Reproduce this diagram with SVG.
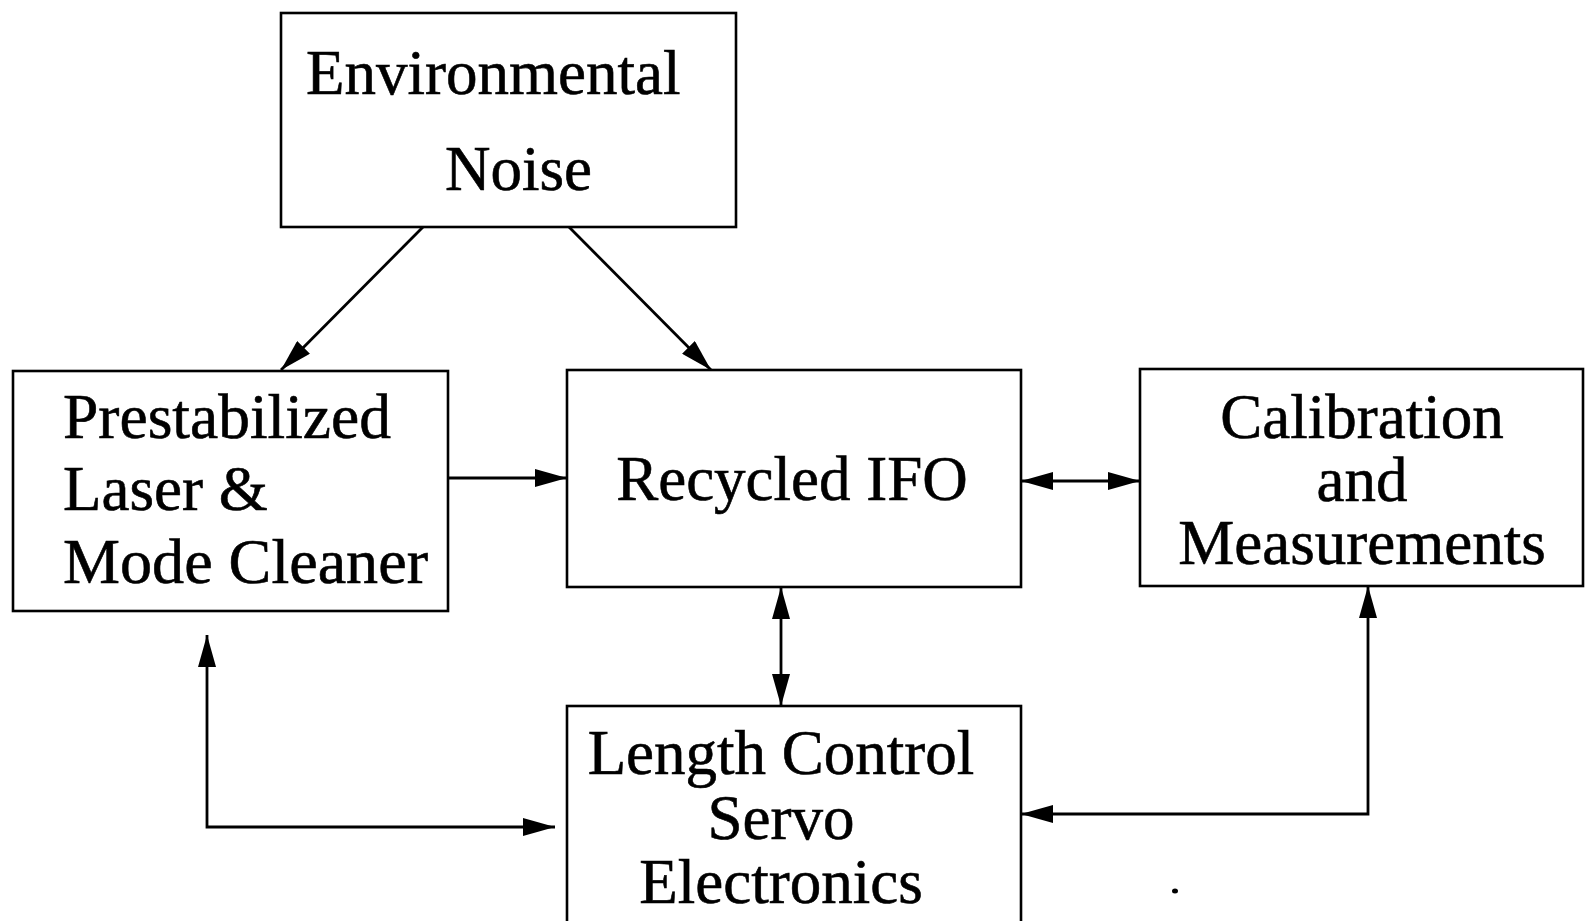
<svg xmlns="http://www.w3.org/2000/svg" width="1585" height="921" viewBox="0 0 1585 921">
<defs>
<style>
.box{fill:#fff;stroke:#000;stroke-width:2.6}
.t{font-family:"Liberation Serif","Times New Roman",serif;font-size:63px;fill:#000;stroke:#000;stroke-width:0.6}
.c{fill:none;stroke:#000;stroke-width:2.8}
</style>
<marker id="ah" markerUnits="userSpaceOnUse" markerWidth="32" markerHeight="18" refX="32" refY="9" orient="auto-start-reverse" viewBox="0 0 32 18">
<path d="M0,0 L32,9 L0,18 z" fill="#000"/>
</marker>
</defs>
<rect width="1585" height="921" fill="#fff"/>
<g id="env">
<rect class="box" x="281" y="13" width="455" height="214"/>
<text class="t" x="306" y="94">Environmental</text>
<text class="t" x="445" y="190">Noise</text>
</g>
<g id="laser">
<rect class="box" x="13" y="371" width="435" height="240"/>
<text class="t" x="63" y="438" textLength="328" lengthAdjust="spacingAndGlyphs">Prestabilized</text>
<text class="t" x="63" y="510">Laser &amp;</text>
<text class="t" x="63" y="583" textLength="365" lengthAdjust="spacingAndGlyphs">Mode Cleaner</text>
</g>
<g id="ifo">
<rect class="box" x="567" y="370" width="454" height="217"/>
<text class="t" x="792" y="500" text-anchor="middle">Recycled IFO</text>
</g>
<g id="cal">
<rect class="box" x="1140" y="369" width="443" height="217"/>
<text class="t" x="1362" y="438" text-anchor="middle">Calibration</text>
<text class="t" x="1362" y="501" text-anchor="middle">and</text>
<text class="t" x="1362" y="564" text-anchor="middle">Measurements</text>
</g>
<g id="lcs">
<rect class="box" x="567" y="706" width="454" height="230"/>
<text class="t" x="781" y="774" text-anchor="middle">Length Control</text>
<text class="t" x="781" y="839" text-anchor="middle">Servo</text>
<text class="t" x="781" y="903" text-anchor="middle">Electronics</text>
</g>
<g id="connectors">
<line class="c" x1="423" y1="227" x2="281" y2="370" marker-end="url(#ah)"/>
<line class="c" x1="569" y1="227" x2="711" y2="370" marker-end="url(#ah)"/>
<line class="c" x1="448" y1="478" x2="567" y2="478" marker-end="url(#ah)"/>
<line class="c" x1="1021" y1="481" x2="1140" y2="481" marker-start="url(#ah)" marker-end="url(#ah)"/>
<line class="c" x1="781" y1="587" x2="781" y2="706" marker-start="url(#ah)" marker-end="url(#ah)"/>
<polyline class="c" points="207,635 207,827 555,827" marker-start="url(#ah)" marker-end="url(#ah)"/>
<polyline class="c" points="1368,586 1368,814 1021,814" marker-start="url(#ah)" marker-end="url(#ah)"/>
</g>
<ellipse cx="1175" cy="891" rx="3" ry="2.5" fill="#000"/>
</svg>
